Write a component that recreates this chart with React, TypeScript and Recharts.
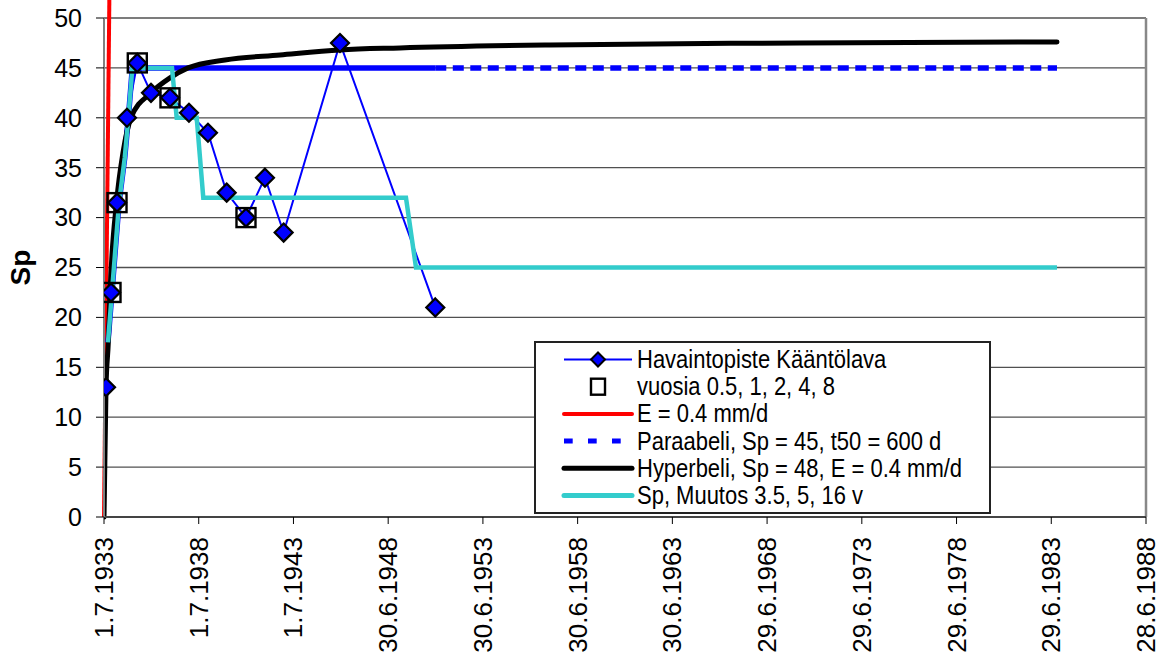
import React from "react";
import {
  ComposedChart,
  Line,
  XAxis,
  YAxis,
  CartesianGrid,
  ReferenceLine,
  Legend,
} from "recharts";

const FONT = "Arial, 'Liberation Sans', sans-serif";

// x axis: days from 1.7.1933
const tickDays = [0, 1826, 3652, 5478, 7304, 9130, 10956, 12782, 14608, 16434, 18260, 20086];
const tickLabels = [
  "1.7.1933", "1.7.1938", "1.7.1943", "30.6.1948", "30.6.1953", "30.6.1958",
  "30.6.1963", "29.6.1968", "29.6.1973", "29.6.1978", "29.6.1983", "28.6.1988",
];
const spTicks = [0, 5, 10, 15, 20, 25, 30, 35, 40, 45, 50];

// Havaintopiste Kääntölava
const obsDays = [39, 135, 251, 443, 642, 906, 1272, 1638, 2004, 2365, 2737, 3103, 3463, 4549, 6386];
const obsSp = [13, 22.5, 31.5, 40, 45.5, 42.5, 42, 40.5, 38.5, 32.5, 30, 34, 28.5, 47.5, 21];

// vuosia 0.5, 1, 2, 4, 8
const yearDays = [135, 251, 642, 1272, 2737];
const yearSp = [22.5, 31.5, 45.5, 42, 30];

// E = 0.4 mm/d
const eDays = [0, 103];
const eSp = [0, 51.8];

// Paraabeli
const paraDays = [77, 290, 400, 470, 546, 6386, 18370];
const paraSp = [17.5, 31.5, 36, 40, 45, 45, 45];

// Hyperbeli
const hypDays = [0, 39, 83, 116, 245, 366, 520, 906, 1272, 1619, 2332, 3393, 4549, 5706, 8597, 13416, 18370];
const hypSp = [0, 13, 17.5, 22.4, 31.7, 36.5, 40, 42.5, 44, 45, 45.8, 46.3, 46.8, 47.0, 47.3, 47.5, 47.6];

// Sp, Muutos 3.5, 5, 16 v
const stepDays = [77, 290, 400, 470, 546, 1311, 1401, 1787, 1914, 5821, 6014, 18370];
const stepSp = [17.5, 31.5, 36, 40, 45, 45, 40, 40, 32, 32, 25, 25];

const rows = (d: number[], v: number[]) => d.map((t, i) => ({ t, v: v[i] }));

const obsRows = rows(obsDays, obsSp);
const yearRows = rows(yearDays, yearSp);
const paraRows = rows(paraDays, paraSp);
const paraSolid = paraRows.filter((r) => r.t <= 6386);
const paraDashed = paraRows.filter((r) => r.t >= 6386);
const hypRows = rows(hypDays, hypSp);
const stepRows = rows(stepDays, stepSp);

const Diamond = (p: any) => {
  const { cx, cy } = p;
  if (cx == null || cy == null) return null;
  const r = 9;
  return (
    <path
      key={`d-${p.index}`}
      d={`M${cx},${cy - r}L${cx + r},${cy}L${cx},${cy + r}L${cx - r},${cy}Z`}
      fill="#0000FF"
      stroke="#000"
      strokeWidth={2.2}
    />
  );
};

const Box = (p: any) => {
  const { cx, cy } = p;
  if (cx == null || cy == null) return null;
  const s = 19;
  return (
    <rect
      key={`b-${p.index}`}
      x={cx - s / 2}
      y={cy - s / 2}
      width={s}
      height={s}
      fill="none"
      stroke="#000"
      strokeWidth={2.4}
    />
  );
};

const XTick = (p: any) => {
  const { x, y, payload } = p;
  const i = tickDays.indexOf(payload.value);
  return (
    <text
      transform={`translate(${x},${y + 11}) rotate(-90)`}
      textAnchor="end"
      dominantBaseline="central"
      fontSize={26}
      fontFamily={FONT}
      fill="#000"
    >
      {tickLabels[i]}
    </text>
  );
};

const legendItems = [
  "Havaintopiste Kääntölava",
  "vuosia 0.5, 1, 2, 4, 8",
  "E = 0.4 mm/d",
  "Paraabeli, Sp = 45, t50 = 600 d",
  "Hyperbeli, Sp = 48, E = 0.4 mm/d",
  "Sp, Muutos 3.5, 5, 16 v",
];

const renderLegend = () => {
  const x1 = 30;
  const x2 = 98;
  const mid = 64;
  const rowY = (i: number) => 18.5 + i * 27.2;
  return (
    <svg width={457} height={173} style={{ display: "block" }}>
      <rect x={1} y={1} width={455} height={171} fill="#fff" stroke="#222" strokeWidth={2} />
      <line x1={x1} x2={x2} y1={rowY(0)} y2={rowY(0)} stroke="#0000FF" strokeWidth={2} />
      <path
        d={`M${mid},${rowY(0) - 7}L${mid + 7},${rowY(0)}L${mid},${rowY(0) + 7}L${mid - 7},${rowY(0)}Z`}
        fill="#0000FF"
        stroke="#000"
        strokeWidth={2}
      />
      <rect x={mid - 7} y={rowY(1) - 8} width={14} height={16} fill="none" stroke="#000" strokeWidth={2.4} />
      <line x1={x1} x2={x2} y1={rowY(2)} y2={rowY(2)} stroke="#FF0000" strokeWidth={4} strokeLinecap="round" />
      <line x1={x1} x2={x2} y1={rowY(3)} y2={rowY(3)} stroke="#0000FF" strokeWidth={5} strokeDasharray="8.7 15.3" />
      <line x1={x1} x2={x2} y1={rowY(4)} y2={rowY(4)} stroke="#000" strokeWidth={5} strokeLinecap="round" />
      <line x1={x1} x2={x2} y1={rowY(5)} y2={rowY(5)} stroke="#33CCCC" strokeWidth={5} strokeLinecap="round" />
      {legendItems.map((t, i) => (
        <text
          key={t}
          transform={`translate(103,${rowY(i)}) scale(0.88,1)`}
          dominantBaseline="central"
          fontSize={25}
          fontFamily={FONT}
          fill="#000"
        >
          {t}
        </text>
      ))}
    </svg>
  );
};

const SpLabel = (p: any) => {
  const vb = p.viewBox || {};
  const cy = (vb.y ?? 18) + (vb.height ?? 499) / 2;
  return (
    <text
      transform={`translate(30,${cy}) rotate(-90)`}
      textAnchor="middle"
      fontSize={28}
      fontWeight="bold"
      fontFamily={FONT}
      fill="#000"
    >
      Sp
    </text>
  );
};

export default function App() {
  return (
    <div style={{ position: "absolute", left: 0, top: 0, width: 1166, height: 659, background: "#fff" }}>
      <ComposedChart
        width={1166}
        height={659}
        margin={{ top: 18, right: 20, bottom: 0, left: 0 }}
      >
        <CartesianGrid vertical={false} stroke="#505050" strokeWidth={1.3} />
        <XAxis
          type="number"
          dataKey="t"
          domain={[0, 20086]}
          ticks={tickDays}
          interval={0}
          allowDataOverflow
          height={142}
          tickSize={7}
          tick={<XTick />}
          tickLine={{ stroke: "#000" }}
          axisLine={{ stroke: "#444", strokeWidth: 2 }}
        />
        <YAxis
          type="number"
          domain={[0, 50]}
          ticks={spTicks}
          interval={0}
          width={104}
          tickSize={8}
          tickMargin={14}
          tick={{ fontSize: 25, fill: "#000", fontFamily: FONT }}
          tickLine={{ stroke: "#000" }}
          axisLine={{ stroke: "#808080", strokeWidth: 2 }}
          label={<SpLabel />}
        />
        <ReferenceLine x={20086} stroke="#888" strokeWidth={2.5} ifOverflow="visible" />
        <Line
          data={obsRows}
          dataKey="v"
          type="linear"
          stroke="#0000FF"
          strokeWidth={2}
          dot={false}
          activeDot={false}
          isAnimationActive={false}
        />
        <ReferenceLine
          segment={[
            { x: eDays[0], y: eSp[0] },
            { x: eDays[1], y: eSp[1] },
          ]}
          stroke="#FF0000"
          strokeWidth={4}
          ifOverflow="visible"
        />
        <Line
          data={paraSolid}
          dataKey="v"
          type="linear"
          stroke="#0000FF"
          strokeWidth={5.5}
          dot={false}
          activeDot={false}
          isAnimationActive={false}
        />
        <Line
          data={paraDashed}
          dataKey="v"
          type="linear"
          stroke="#0000FF"
          strokeWidth={5.5}
          strokeDasharray="11 6.5"
          dot={false}
          activeDot={false}
          isAnimationActive={false}
        />
        <Line
          data={hypRows}
          dataKey="v"
          type="monotone"
          stroke="#000"
          strokeWidth={5}
          strokeLinecap="round"
          dot={false}
          activeDot={false}
          isAnimationActive={false}
        />
        <Line
          data={stepRows}
          dataKey="v"
          type="linear"
          stroke="#33CCCC"
          strokeWidth={4.5}
          dot={false}
          activeDot={false}
          isAnimationActive={false}
        />
        <Line
          data={yearRows}
          dataKey="v"
          stroke="none"
          dot={(p: any) => <Box {...p} key={`b-${p.index}`} />}
          activeDot={false}
          isAnimationActive={false}
        />
        <Line
          data={obsRows}
          dataKey="v"
          stroke="none"
          dot={(p: any) => <Diamond {...p} key={`d-${p.index}`} />}
          activeDot={false}
          isAnimationActive={false}
        />
        <Legend
          layout="vertical"
          align="center"
          verticalAlign="middle"
          content={renderLegend}
          wrapperStyle={{ left: 534, top: 341, width: 457, height: 173 }}
        />
      </ComposedChart>
    </div>
  );
}
